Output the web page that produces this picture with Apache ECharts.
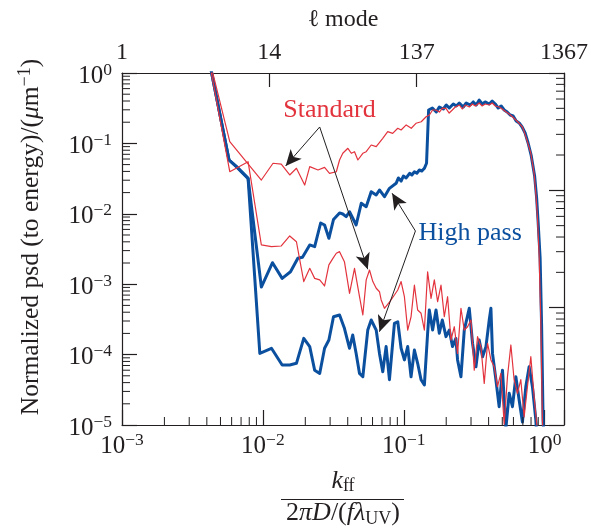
<!DOCTYPE html>
<html>
<head>
<meta charset="utf-8">
<script src="https://cdn.jsdelivr.net/npm/echarts@6/dist/echarts.min.js"></script>
<style>
  html, body { margin: 0; padding: 0; background: #ffffff; }
  #chart { width: 591px; height: 531px; }
</style>
</head>
<body>
<div id="chart"></div>
<script>
// ---- spectra: normalized k (k_ff / (2πD/(fλ_UV))) and normalized PSD ----
const kStandardUpper = [0.004, 0.00582, 0.00975, 0.0118, 0.0135, 0.0155, 0.0173, 0.0198, 0.0215, 0.0246, 0.0274, 0.0297, 0.0332, 0.035, 0.0369, 0.0401, 0.0424, 0.0447, 0.0472, 0.0512, 0.0541, 0.0587, 0.0637, 0.0709, 0.0769, 0.0834, 0.0906, 0.0957, 0.104, 0.113, 0.122, 0.133, 0.144, 0.152, 0.160, 0.169, 0.179, 0.188, 0.199, 0.210, 0.221, 0.232, 0.248, 0.260, 0.273, 0.292, 0.306, 0.322, 0.343, 0.360, 0.378, 0.404, 0.424, 0.446, 0.475, 0.499, 0.530, 0.560, 0.590, 0.624, 0.659, 0.695, 0.715, 0.754, 0.797, 0.841, 0.865, 0.888, 0.912, 0.938, 0.963, 0.99];
const psdStandardUpper = [2.2, 0.106, 0.0302, 0.0522, 0.0508, 0.0356, 0.0443, 0.0256, 0.0467, 0.0419, 0.0457, 0.0376, 0.0396, 0.0581, 0.0724, 0.0852, 0.0724, 0.0762, 0.0581, 0.0724, 0.0762, 0.0949, 0.0898, 0.118, 0.147, 0.139, 0.164, 0.155, 0.183, 0.164, 0.193, 0.203, 0.239, 0.253, 0.298, 0.298, 0.279, 0.318, 0.315, 0.270, 0.298, 0.329, 0.351, 0.308, 0.351, 0.329, 0.363, 0.340, 0.375, 0.340, 0.363, 0.351, 0.375, 0.340, 0.329, 0.308, 0.282, 0.262, 0.239, 0.215, 0.193, 0.171, 0.147, 0.106, 0.0724, 0.0376, 0.0196, 0.0091, 0.00275, 0.00031, 0.0000118, 0.000003];

const kStandardLower = [0.004, 0.00582, 0.00785, 0.00975, 0.0115, 0.0135, 0.0155, 0.0173, 0.0195, 0.0215, 0.0233, 0.0253, 0.0274, 0.0294, 0.0314, 0.0332, 0.035, 0.0379, 0.0412, 0.0447, 0.0485, 0.0512, 0.0541, 0.0571, 0.0603, 0.0637, 0.0672, 0.0691, 0.0729, 0.0791, 0.0858, 0.0906, 0.0957, 0.101, 0.1066, 0.1126, 0.1189, 0.1254, 0.1326, 0.140, 0.1476, 0.1561, 0.1647, 0.1738, 0.1837, 0.1939, 0.2046, 0.2163, 0.2283, 0.2408, 0.2545, 0.2687, 0.2836, 0.2996, 0.3162, 0.3338, 0.3528, 0.3723, 0.3929, 0.4153, 0.4382, 0.4624, 0.4887, 0.5158, 0.5442, 0.5754, 0.6067, 0.6409, 0.677, 0.7145, 0.7544, 0.7973, 0.8414, 0.8795, 0.912];
const psdStandardLower = [2.2, 0.0396, 0.055, 0.00361, 0.00341, 0.00349, 0.00484, 0.00401, 0.00109, 0.00168, 0.00121, 0.00115, 0.000943, 0.00188, 0.00233, 0.00275, 0.0029, 0.00209, 0.000743, 0.00168, 0.000664, 0.000365, 0.00115, 0.00159, 0.00109, 0.000875, 0.000782, 0.000597, 0.000455, 0.000558, 0.000703, 0.000828, 0.00109, 0.000664, 0.000223, 0.000345, 0.000968, 0.00043, 0.000386, 0.000223, 0.0015, 0.00063, 0.00115, 0.000564, 0.000968, 0.000345, 0.000664, 0.000161, 0.000249, 0.000104, 0.000455, 0.000223, 0.000249, 0.00031, 0.00006, 0.00018, 0.000129, 0.000039, 0.000145, 0.000084, 0.0000673, 0.000035, 0.000054, 0.0000103, 0.0000485, 0.000137, 0.000044, 0.0000282, 0.000044, 0.000013, 0.000035, 0.0000933, 0.0000252, 0.00001, 0.000002];

const kHighPassUpper = [0.004, 0.00575, 0.00649, 0.00785, 0.00975, 0.0117, 0.0137, 0.0157, 0.0177, 0.0191, 0.0215, 0.0233, 0.0257, 0.0274, 0.0294, 0.0317, 0.035, 0.0369, 0.039, 0.0412, 0.0459, 0.0499, 0.0541, 0.0587, 0.0637, 0.0672, 0.0729, 0.0791, 0.0882, 0.0916, 0.0957, 0.0993, 0.104, 0.110, 0.1141, 0.119, 0.1238, 0.129, 0.1343, 0.140, 0.145, 0.150, 0.1595, 0.1701, 0.1787, 0.1908, 0.2003, 0.2104, 0.2245, 0.2358, 0.2476, 0.2643, 0.2775, 0.2962, 0.3111, 0.3268, 0.343, 0.360, 0.378, 0.404, 0.424, 0.446, 0.4677, 0.4912, 0.516, 0.5417, 0.5689, 0.5974, 0.6275, 0.659, 0.6917, 0.7264, 0.7628, 0.8011, 0.8484, 0.8765, 0.8982, 0.928, 0.9506, 0.9743, 1.0];
const psdHighPassUpper = [2.2, 0.0581, 0.0467, 0.0319, 0.000912, 0.00202, 0.00121, 0.0015, 0.00233, 0.00241, 0.00361, 0.00341, 0.0074, 0.00693, 0.00449, 0.0083, 0.0103, 0.00993, 0.0091, 0.0107, 0.00693, 0.0141, 0.0126, 0.0206, 0.0185, 0.0218, 0.0175, 0.023, 0.0271, 0.0323, 0.0292, 0.0344, 0.0323, 0.0376, 0.0356, 0.0396, 0.0377, 0.0419, 0.0405, 0.0443, 0.0522, 0.298, 0.318, 0.279, 0.329, 0.308, 0.351, 0.318, 0.363, 0.340, 0.375, 0.329, 0.375, 0.351, 0.388, 0.351, 0.413, 0.363, 0.388, 0.363, 0.400, 0.363, 0.318, 0.340, 0.298, 0.279, 0.253, 0.245, 0.208, 0.195, 0.171, 0.1405, 0.1013, 0.0684, 0.0344, 0.0168, 0.00765, 0.00236, 0.000263, 0.0000118, 0.000003];

const kHighPassLower = [0.004, 0.00575, 0.00649, 0.00785, 0.00951, 0.0115, 0.0137, 0.0155, 0.0173, 0.0195, 0.0215, 0.0233, 0.0253, 0.0274, 0.0294, 0.0317, 0.035, 0.0379, 0.0412, 0.0434, 0.0459, 0.0485, 0.0512, 0.0555, 0.0587, 0.0637, 0.0672, 0.0709, 0.0749, 0.0791, 0.0858, 0.0906, 0.0957, 0.101, 0.1066, 0.1126, 0.1189, 0.1254, 0.1326, 0.140, 0.1476, 0.1517, 0.1602, 0.1693, 0.1787, 0.1877, 0.1993, 0.2104, 0.2216, 0.2343, 0.2408, 0.2545, 0.2687, 0.2915, 0.3076, 0.3251, 0.343, 0.3622, 0.3828, 0.404, 0.4153, 0.4262, 0.4505, 0.475, 0.5017, 0.5302, 0.5597, 0.5905, 0.6242, 0.6587, 0.695, 0.7346, 0.7755, 0.8185, 0.865, 0.8877, 0.93];
const psdHighPassLower = [2.2, 0.0581, 0.0467, 0.0319, 0.000104, 0.000123, 0.0000712, 0.0000712, 0.0000752, 0.00017, 0.00013, 0.00006, 0.000054, 0.000123, 0.000161, 0.000345, 0.000365, 0.000236, 0.000123, 0.00019, 0.000104, 0.000054, 0.0000485, 0.000223, 0.00031, 0.000223, 0.000104, 0.000057, 0.00013, 0.000044, 0.000278, 0.000293, 0.000123, 0.000084, 0.00013, 0.0000485, 0.000116, 0.0000752, 0.000044, 0.000037, 0.000201, 0.00043, 0.000223, 0.00043, 0.000201, 0.00031, 0.00018, 0.000223, 0.00013, 0.00017, 0.000084, 0.0000485, 0.000223, 0.000455, 0.000145, 0.0000673, 0.000161, 0.0000933, 0.000129, 0.00031, 0.000455, 0.000104, 0.000044, 0.0000182, 0.00006, 0.0000089, 0.0000282, 0.0000182, 0.0000485, 0.0000226, 0.000011, 0.000035, 0.0000673, 0.000035, 0.0000118, 0.000005, 0.000001];

// ---- axes ----
const kRange = [0.001, 1.371];
const psdRange = [1e-5, 1];
const rightRange = [1, 1000];
const modeTickLabels = ['1', '14', '137', '1367'];
const minorSteps = [2, 3, 4, 5, 6, 7, 8, 9];
const kDecades = [0.001, 0.01, 0.1];
const psdDecades = [1e-5, 1e-4, 1e-3, 1e-2, 1e-1];
const rightDecades = [1, 10, 100];

const FONT = '"Liberation Serif", "Times New Roman", Times, serif';
const INK = '#231f20';
const RED = '#e3343e';
const BLUE = '#0b4f9f';

const pairs = (xs, ys) => xs.map((x, i) => [x, ys[i]]);
const minors = decades => decades.flatMap(d => minorSteps.map(m => +(m * d).toPrecision(3)));

function powerLabel(v) {
  const e = Math.round(Math.log10(v));
  if (Math.abs(Math.log10(v) - e) > 1e-6) return '';
  return '{b|10}{s|' + (e < 0 ? '\u2212' + (-e) : String(e)) + '}';
}
const powerRich = {
  b: { fontFamily: FONT, fontSize: 25, color: INK, lineHeight: 30 },
  s: { fontFamily: FONT, fontSize: 17.5, color: INK, lineHeight: 12, verticalAlign: 'top' }
};

function minorTickSeries(data, yAxisIndex, dx, dy) {
  return {
    type: 'custom', coordinateSystem: 'cartesian2d', xAxisIndex: 0, yAxisIndex,
    silent: true, clip: false, z: 5, data,
    renderItem: (params, api) => {
      const p = api.coord([api.value(0), api.value(1)]);
      return { type: 'line', shape: { x1: p[0], y1: p[1], x2: p[0] + dx, y2: p[1] + dy },
               style: { stroke: INK, lineWidth: 1 } };
    }
  };
}

const axisLine = { show: true, lineStyle: { color: INK, width: 1.2 } };
const majorTick = len => ({ show: true, inside: true, length: len, lineStyle: { color: INK, width: 1.2 } });

const arrowStyle = { color: INK, width: 1, type: 'solid' };
const arrowHead = { symbol: 'arrow', symbolSize: [11, 16] };

const chart = echarts.init(document.getElementById('chart'), null, { renderer: 'canvas' });
chart.setOption({
  animation: false,
  backgroundColor: '#ffffff',
  grid: { left: 122, right: 26, top: 73, bottom: 106 },
  xAxis: [
    {
      type: 'log', logBase: 10, min: kRange[0], max: kRange[1], position: 'bottom',
      axisLine, axisTick: majorTick(15), splitLine: { show: false },
      axisLabel: { formatter: powerLabel, margin: 6, rich: powerRich }
    },
    {
      type: 'value', min: 0, max: 3, interval: 1, position: 'top',
      name: '\u2113 mode', nameLocation: 'middle', nameGap: 41,
      nameTextStyle: { fontFamily: FONT, fontSize: 24, color: INK },
      axisLine, axisTick: majorTick(14), splitLine: { show: false },
      axisLabel: { formatter: v => modeTickLabels[v], margin: 8, fontFamily: FONT, fontSize: 24, color: INK }
    }
  ],
  yAxis: [
    {
      type: 'log', logBase: 10, min: psdRange[0], max: psdRange[1], position: 'left',
      name: 'Normalized psd (to energy)/({i|\u03bc}m{s|\u22121})', nameLocation: 'middle', nameGap: 76,
      nameTextStyle: {
        fontFamily: FONT, fontSize: 25.5, color: INK, padding: [0, 0, 0, 24],
        rich: {
          i: { fontFamily: FONT, fontSize: 25.5, fontStyle: 'italic', color: INK, lineHeight: 30 },
          s: { fontFamily: FONT, fontSize: 18, color: INK, lineHeight: 12, verticalAlign: 'top' }
        }
      },
      axisLine, axisTick: majorTick(15), splitLine: { show: false },
      axisLabel: { formatter: powerLabel, margin: 10, rich: powerRich, padding: [6, 0, 0, 0] }
    },
    {
      type: 'log', logBase: 10, min: rightRange[0], max: rightRange[1], position: 'right',
      axisLine, axisTick: majorTick(15), splitLine: { show: false }, axisLabel: { show: false }
    }
  ],
  series: [
    {
      name: 'High pass (upper)', type: 'line', data: pairs(kHighPassUpper, psdHighPassUpper),
      showSymbol: false, symbol: 'none', z: 2,
      lineStyle: { color: BLUE, width: 3, join: 'round', cap: 'round' },
      markPoint: {
        silent: true, symbol: 'circle', symbolSize: 0, itemStyle: { color: 'transparent' },
        data: [{ coord: [0.296, 0.00534], label: { show: true, position: 'inside', formatter: 'High pass',
                 color: BLUE, fontFamily: FONT, fontSize: 26 } }]
      },
      markLine: {
        silent: true, symbol: ['none', 'arrow'], label: { show: false }, lineStyle: arrowStyle,
        emphasis: { disabled: true },
        data: [
          [{ coord: [0.1209, 0.0057] }, Object.assign({ coord: [0.0826, 0.0196] }, arrowHead)],
          [{ coord: [0.1209, 0.0057] }, Object.assign({ coord: [0.0672, 0.000212] }, arrowHead)]
        ]
      }
    },
    {
      name: 'High pass (lower)', type: 'line', data: pairs(kHighPassLower, psdHighPassLower),
      showSymbol: false, symbol: 'none', z: 2,
      lineStyle: { color: BLUE, width: 3, join: 'round', cap: 'round' }
    },
    {
      name: 'Standard (upper)', type: 'line', data: pairs(kStandardUpper, psdStandardUpper),
      showSymbol: false, symbol: 'none', z: 3,
      lineStyle: { color: RED, width: 1.2, join: 'round' },
      markPoint: {
        silent: true, symbol: 'circle', symbolSize: 0, itemStyle: { color: 'transparent' },
        data: [{ coord: [0.0297, 0.298], label: { show: true, position: 'inside', formatter: 'Standard',
                 color: RED, fontFamily: FONT, fontSize: 26 } }]
      },
      markLine: {
        silent: true, symbol: ['none', 'arrow'], label: { show: false }, lineStyle: arrowStyle,
        emphasis: { disabled: true },
        data: [
          [{ coord: [0.0253, 0.171] }, Object.assign({ coord: [0.0145, 0.0478] }, arrowHead)],
          [{ coord: [0.0253, 0.171] }, Object.assign({ coord: [0.0555, 0.00163] }, arrowHead)]
        ]
      }
    },
    {
      name: 'Standard (lower)', type: 'line', data: pairs(kStandardLower, psdStandardLower),
      showSymbol: false, symbol: 'none', z: 3,
      lineStyle: { color: RED, width: 1.2, join: 'round' }
    },
    minorTickSeries(minors(kDecades).map(k => [k, psdRange[0]]), 0, 0, -8),
    minorTickSeries(minors(psdDecades).map(v => [kRange[0], v]), 0, 8, 0),
    minorTickSeries(minors(rightDecades).map(v => [kRange[1], v]), 1, -8, 0)
  ],
  graphic: [
    {
      type: 'text', x: 343, y: 495, silent: true,
      style: {
        text: '{k|k}{f|ff}', align: 'center', verticalAlign: 'bottom',
        rich: {
          k: { fontFamily: FONT, fontStyle: 'italic', fontSize: 26, fill: INK, lineHeight: 28 },
          f: { fontFamily: FONT, fontSize: 18, fill: INK, lineHeight: 16, verticalAlign: 'bottom' }
        }
      }
    },
    {
      type: 'line', silent: true,
      shape: { x1: 281, y1: 499.5, x2: 404, y2: 499.5 },
      style: { stroke: INK, lineWidth: 1.2 }
    },
    {
      type: 'text', x: 343, y: 498, silent: true,
      style: {
        text: '{n|2}{i|\u03c0D}{n|/(}{i|f\u03bb}{u|UV}{n|)}', align: 'center', verticalAlign: 'top',
        rich: {
          n: { fontFamily: FONT, fontSize: 26, fill: INK, lineHeight: 30 },
          i: { fontFamily: FONT, fontStyle: 'italic', fontSize: 26, fill: INK, lineHeight: 30 },
          u: { fontFamily: FONT, fontSize: 18, fill: INK, lineHeight: 6, verticalAlign: 'bottom' }
        }
      }
    }
  ]
});
</script>
</body>
</html>
